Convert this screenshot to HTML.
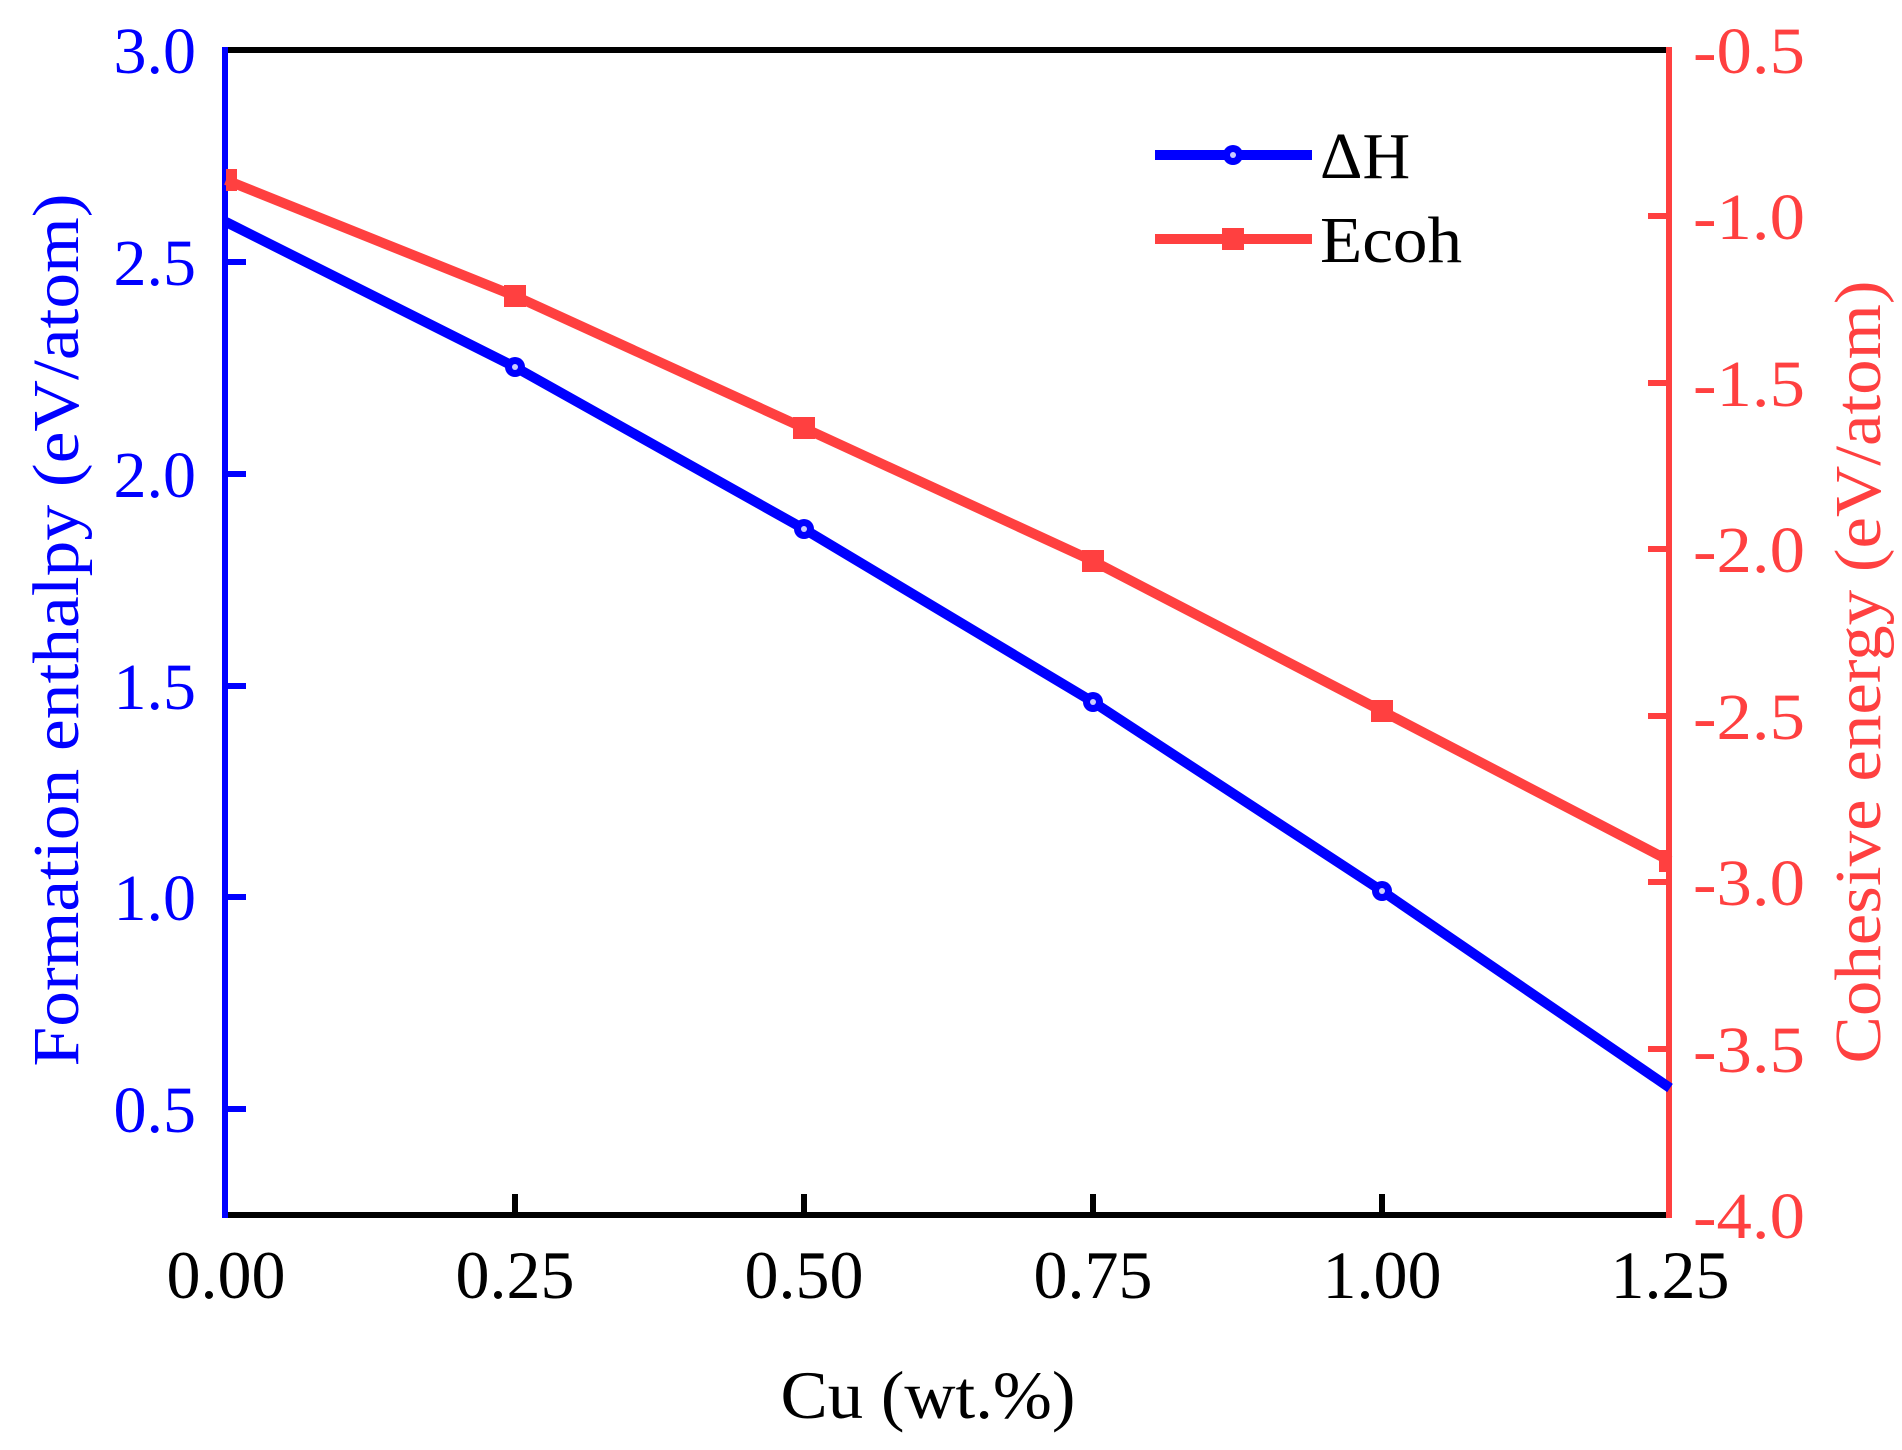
<!DOCTYPE html>
<html><head><meta charset="utf-8"><style>body{margin:0;background:#fff}svg{display:block}</style></head>
<body>
<svg width="1902" height="1450" viewBox="0 0 1902 1450" xmlns="http://www.w3.org/2000/svg" font-family="Liberation Serif, serif">
<line x1="222" y1="50" x2="1670" y2="50" stroke="#000" stroke-width="6"/>
<line x1="222" y1="1215" x2="1670" y2="1215" stroke="#000" stroke-width="6"/>
<line x1="225" y1="47" x2="225" y2="1218" stroke="#0000ff" stroke-width="6"/>
<line x1="1669" y1="47" x2="1669" y2="1218" stroke="#ff4040" stroke-width="6"/>
<g stroke="#000" stroke-width="6">
<line x1="515" y1="1215" x2="515" y2="1194"/><line x1="804" y1="1215" x2="804" y2="1194"/>
<line x1="1093" y1="1215" x2="1093" y2="1194"/><line x1="1382" y1="1215" x2="1382" y2="1194"/>
</g>
<g font-size="68" text-anchor="middle" fill="#000">
<text x="226" y="1298">0.00</text><text x="515" y="1298">0.25</text><text x="804" y="1298">0.50</text>
<text x="1093" y="1298">0.75</text><text x="1382" y="1298">1.00</text><text x="1670" y="1298">1.25</text>
<text x="928" y="1418" textLength="295" lengthAdjust="spacingAndGlyphs">Cu (wt.%)</text>
</g>
<g stroke="#0000ff" stroke-width="6">
<line x1="225" y1="262" x2="246" y2="262"/><line x1="225" y1="474" x2="246" y2="474"/>
<line x1="225" y1="686" x2="246" y2="686"/><line x1="225" y1="897" x2="246" y2="897"/>
<line x1="225" y1="1109" x2="246" y2="1109"/>
</g>
<g font-size="66" text-anchor="end" fill="#0000ff">
<text x="196" y="73">3.0</text><text x="196" y="285">2.5</text><text x="196" y="497">2.0</text>
<text x="196" y="709">1.5</text><text x="196" y="920">1.0</text><text x="196" y="1132">0.5</text>
</g>
<text transform="translate(78,630) rotate(-90)" font-size="66" text-anchor="middle" fill="#0000ff" textLength="873" lengthAdjust="spacingAndGlyphs">Formation enthalpy (eV/atom)</text>
<g stroke="#ff4040" stroke-width="6">
<line x1="1669" y1="216" x2="1648" y2="216"/><line x1="1669" y1="383" x2="1648" y2="383"/>
<line x1="1669" y1="549" x2="1648" y2="549"/><line x1="1669" y1="716" x2="1648" y2="716"/>
<line x1="1669" y1="882" x2="1648" y2="882"/><line x1="1669" y1="1049" x2="1648" y2="1049"/>
</g>
<g font-size="66" text-anchor="start" fill="#ff4040">
<text x="1693" y="73" textLength="112" lengthAdjust="spacingAndGlyphs">-0.5</text><text x="1693" y="239" textLength="112" lengthAdjust="spacingAndGlyphs">-1.0</text><text x="1693" y="406" textLength="112" lengthAdjust="spacingAndGlyphs">-1.5</text>
<text x="1693" y="572" textLength="112" lengthAdjust="spacingAndGlyphs">-2.0</text><text x="1693" y="739" textLength="112" lengthAdjust="spacingAndGlyphs">-2.5</text><text x="1693" y="905" textLength="112" lengthAdjust="spacingAndGlyphs">-3.0</text>
<text x="1693" y="1072" textLength="112" lengthAdjust="spacingAndGlyphs">-3.5</text><text x="1693" y="1238" textLength="112" lengthAdjust="spacingAndGlyphs">-4.0</text>
</g>
<text transform="translate(1880,672) rotate(-90)" font-size="66" text-anchor="middle" fill="#ff4040" textLength="783" lengthAdjust="spacingAndGlyphs">Cohesive energy (eV/atom)</text>
<polyline fill="none" stroke="#ff4040" stroke-width="10" points="226,180 515,296 804,428 1093,561 1382,711 1670,861"/>
<g fill="#ff4040">
<rect x="504" y="285" width="22" height="22"/><rect x="793" y="417" width="22" height="22"/>
<rect x="1082" y="550" width="22" height="22"/><rect x="1371" y="700" width="22" height="22"/>
<rect x="226" y="169" width="11" height="22"/><rect x="1659" y="850" width="11" height="22"/>
</g>
<polyline fill="none" stroke="#0000ff" stroke-width="10" points="226,222 515,367 804,529 1093,702 1382,891 1670,1088"/>
<g fill="#0000ff">
<circle cx="515" cy="367" r="10"/><circle cx="804" cy="529" r="10"/><circle cx="1093" cy="702" r="10"/><circle cx="1382" cy="891" r="10"/>
</g>
<g fill="#ccccff"><circle cx="515" cy="367" r="3"/><circle cx="804" cy="529" r="3"/><circle cx="1093" cy="702" r="3"/><circle cx="1382" cy="891" r="3"/></g>
<line x1="1155" y1="155" x2="1312" y2="155" stroke="#0000ff" stroke-width="10"/>
<circle cx="1233" cy="155" r="10" fill="#0000ff"/><circle cx="1233" cy="155" r="3" fill="#ccccff"/>
<line x1="1155" y1="239" x2="1312" y2="239" stroke="#ff4040" stroke-width="10"/>
<rect x="1222" y="228" width="22" height="22" fill="#ff4040"/>
<g font-size="66" fill="#000"><text x="1320" y="178">ΔH</text><text x="1320" y="262" textLength="142" lengthAdjust="spacingAndGlyphs">Ecoh</text></g>
</svg>
</body></html>
